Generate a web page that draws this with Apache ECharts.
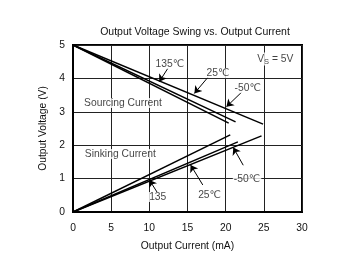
<!DOCTYPE html>
<html><head><meta charset="utf-8">
<script src="https://cdn.jsdelivr.net/npm/echarts@6/dist/echarts.min.js"></script>
<style>html,body{margin:0;padding:0;background:#fff}#c{width:363px;height:275px}</style>
</head><body><div id="c"></div>
<script>
// Output current (mA) and output voltage (V)
const src135 = [[0, 5], [20.4, 2.66]];
const src25 = [[0, 5], [21.3, 2.70]];
const srcM50 = [[0, 5], [24.9, 2.63]];
const sink135 = [[0, 0], [20.6, 2.31]];
const sink25 = [[0, 0], [21.6, 2.10]];
const sinkM50 = [[0, 0], [24.7, 2.28]];
const xTicks = [0, 5, 10, 15, 20, 25, 30];
const yTicks = [0, 1, 2, 3, 4, 5];
// annotation labels [current, voltage, text]
const labels = [
  [12.7, 4.43, '135℃'],
  [19.0, 4.16, '25℃'],
  [22.9, 3.71, '-50℃'],
  [6.55, 3.26, 'Sourcing Current'],
  [6.2, 1.74, 'Sinking Current'],
  [11.1, 0.45, '135'],
  [17.9, 0.51, '25℃'],
  [22.8, 0.99, '-50℃']
];
const vsLabel = [[26.5, 4.58, 'VS']];
// arrows [[from],[to]]
const arrows = [
  [[12.45, 4.31], [11.3, 3.90]],
  [[17.7, 4.04], [15.9, 3.55]],
  [[22.1, 3.59], [20.1, 3.15]],
  [[11.0, 0.60], [10.0, 0.96]],
  [[17.0, 0.81], [15.4, 1.41]],
  [[22.3, 1.40], [21.0, 1.93]]
];
const FF = 'Liberation Sans, Arial, DejaVu Sans, sans-serif';
const lineStyle = {color: '#000', width: 1.4};
function ln(d){return {type:'line', data:d, symbol:'none', lineStyle, silent:true, animation:false};}
const chart = echarts.init(document.getElementById('c'));
chart.setOption({
  animation: false,
  title: {text: 'Output Voltage Swing vs. Output Current', left: 190, top: 22, textAlign: 'center',
    textStyle: {fontFamily: FF, fontSize: 10.5, fontWeight: 'normal', color: '#111'}},
  grid: {left: 73, right: 61, top: 45, bottom: 63, show: true, borderColor: '#000', borderWidth: 2},
  xAxis: {type: 'value', min: 0, max: 30, interval: 5,
    name: 'Output Current (mA)', nameLocation: 'middle', nameGap: 29,
    nameTextStyle: {fontFamily: FF, fontSize: 10.3, color: '#111'},
    axisLine: {show: true, lineStyle: {color: '#000', width: 2}}, axisTick: {show: false},
    axisLabel: {fontFamily: FF, fontSize: 10.3, color: '#111', margin: 11},
    splitLine: {lineStyle: {color: '#222', width: 1}}},
  yAxis: {type: 'value', min: 0, max: 5, interval: 1,
    name: 'Output Voltage (V)', nameLocation: 'middle', nameGap: 25,
    nameTextStyle: {fontFamily: FF, fontSize: 10.3, color: '#111'},
    axisLine: {show: true, lineStyle: {color: '#000', width: 2}}, axisTick: {show: false},
    axisLabel: {fontFamily: FF, fontSize: 10.3, color: '#111', margin: 8},
    splitLine: {lineStyle: {color: '#222', width: 1}}},
  series: [
    ln(src135), ln(src25), ln(srcM50), ln(sink135), ln(sink25), ln(sinkM50),
    {type: 'lines', coordinateSystem: 'cartesian2d', silent: true, z: 3,
     symbol: ['none', 'arrow'], symbolSize: 7,
     lineStyle: {color: '#000', width: 1, opacity: 1},
     data: arrows.map(a => ({coords: a}))},
    {type: 'scatter', symbolSize: 0, silent: true, z: 4,
     data: labels,
     label: {show: true, position: 'inside', formatter: p => p.value[2],
       fontFamily: FF, fontSize: 10.3, color: '#111', backgroundColor: '#fff', padding: [0, 1]}},
    {type: 'scatter', symbolSize: 0, silent: true, z: 4,
     data: vsLabel,
     label: {show: true, position: 'inside', formatter: () => 'V{s|S} = 5V',
       fontFamily: FF, fontSize: 10.3, color: '#111', backgroundColor: '#fff',
       rich: {s: {fontFamily: FF, fontSize: 7.5, color: '#111', verticalAlign: 'bottom', padding: [5, 0, 0, 0]}}}}
  ]
});
</script></body></html>
